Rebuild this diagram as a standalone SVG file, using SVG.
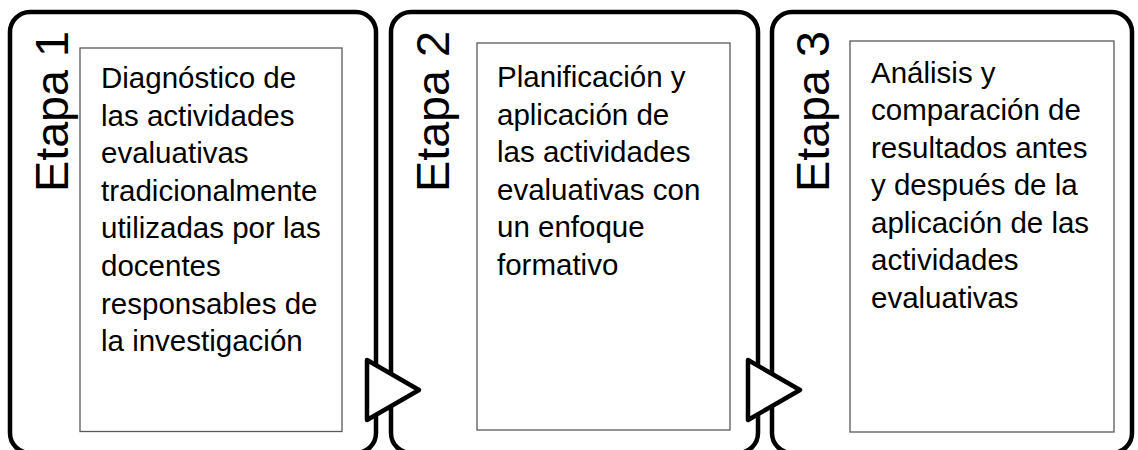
<svg xmlns="http://www.w3.org/2000/svg" width="1138" height="450" viewBox="0 0 1138 450">
<defs>
<style>
.card{fill:#fff;stroke:#000;stroke-width:4.5}
.inner{fill:#fff;stroke:#595959;stroke-width:1.3}
.stage{font-family:"Liberation Sans",Arial,sans-serif;font-size:46px;fill:#000}
.body{font-family:"Liberation Sans",Arial,sans-serif;font-size:29.5px;fill:#000}
.arrow{fill:#fff;stroke:#000;stroke-width:4.5;stroke-linejoin:round}
</style>
</defs>
<rect width="1138" height="450" fill="#fff"/>
<g id="stage1">
<rect class="card" x="10" y="12" width="366" height="441" rx="20"/>
<text class="stage" transform="translate(68,192) rotate(-90)" textLength="161" lengthAdjust="spacingAndGlyphs">Etapa 1</text>
<rect class="inner" x="80" y="48" width="262" height="383.5"/>
<text class="body" x="101">
<tspan x="101" y="88">Diagnóstico de</tspan>
<tspan x="101" y="125.6">las actividades</tspan>
<tspan x="101" y="163.2">evaluativas</tspan>
<tspan x="101" y="200.8">tradicionalmente</tspan>
<tspan x="101" y="238.4">utilizadas por las</tspan>
<tspan x="101" y="276">docentes</tspan>
<tspan x="101" y="313.6">responsables de</tspan>
<tspan x="101" y="351.2">la investigación</tspan>
</text>
</g>
<g id="stage2">
<rect class="card" x="391" y="12" width="367" height="441" rx="20"/>
<text class="stage" transform="translate(449,192) rotate(-90)" textLength="161" lengthAdjust="spacingAndGlyphs">Etapa 2</text>
<rect class="inner" x="477" y="43" width="253" height="387"/>
<text class="body" x="497">
<tspan x="497" y="87">Planificación y</tspan>
<tspan x="497" y="124.6">aplicación de</tspan>
<tspan x="497" y="162.2">las actividades</tspan>
<tspan x="497" y="199.8">evaluativas con</tspan>
<tspan x="497" y="237.4">un enfoque</tspan>
<tspan x="497" y="275">formativo</tspan>
</text>
</g>
<g id="stage3">
<rect class="card" x="772" y="12" width="360" height="441" rx="20"/>
<text class="stage" transform="translate(829,192) rotate(-90)" textLength="161" lengthAdjust="spacingAndGlyphs">Etapa 3</text>
<rect class="inner" x="850" y="41" width="264" height="391"/>
<text class="body" x="871">
<tspan x="871" y="82.5">Análisis y</tspan>
<tspan x="871" y="120">comparación de</tspan>
<tspan x="871" y="157.5">resultados antes</tspan>
<tspan x="871" y="195">y después de la</tspan>
<tspan x="871" y="232.5">aplicación de las</tspan>
<tspan x="871" y="270">actividades</tspan>
<tspan x="871" y="307.5">evaluativas</tspan>
</text>
</g>
<g id="connectors">
<polygon class="arrow" points="367,360 419,390 367,420"/>
<polygon class="arrow" points="748,360 800,390 748,420"/>
</g>
</svg>
